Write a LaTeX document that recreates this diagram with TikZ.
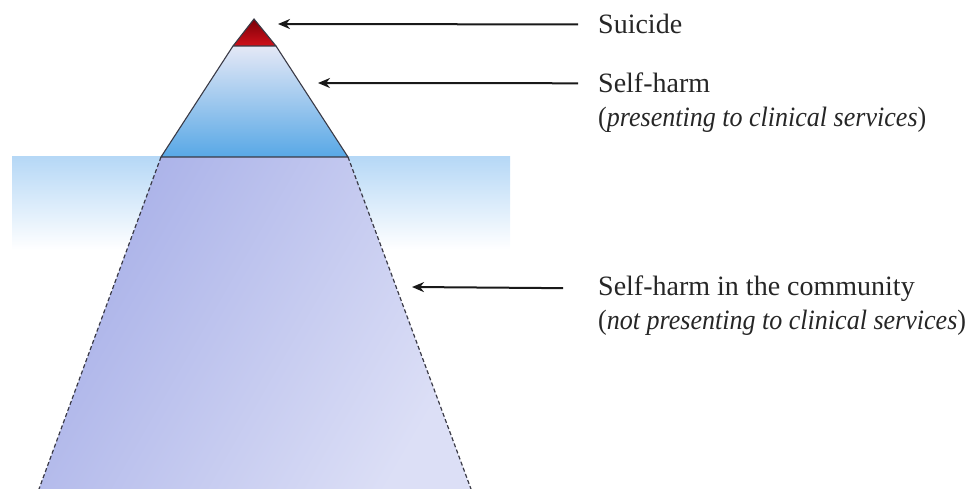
\documentclass[tikz,border=0pt]{standalone}
\usepackage{fontspec}
\setmainfont{Liberation Serif}
\newfontfamily\condit[FakeStretch=0.93]{Liberation Serif}
\usetikzlibrary{arrows.meta}
\definecolor{redtop}{HTML}{7A0008}
\definecolor{redbot}{HTML}{D0101A}
\definecolor{bluetop}{HTML}{E4E8F6}
\definecolor{bluebot}{HTML}{58A8E6}
\definecolor{watertop}{HTML}{B6D8F6}
\definecolor{trapA}{HTML}{A8B0E8}
\definecolor{trapB}{HTML}{DCDFF6}
\definecolor{edge}{HTML}{3A3A46}
\tikzset{
  lbl/.style={anchor=base west, inner xsep=20pt, inner ysep=0pt, font=\fontsize{28}{32}\selectfont, text=black!85},
  sublbl/.style={anchor=base west, inner xsep=20pt, inner ysep=0pt, font=\fontsize{28}{32}\condit, text=black!85},
  arr/.style={-{Stealth[length=12pt,width=10pt]}, line width=2pt, black!90},
  outline/.style={draw=edge, line width=1.1pt}
}
\begin{document}
\begin{tikzpicture}[x=1pt,y=-1pt]
\useasboundingbox (0,0) rectangle (973,489);
% water band
\shade[top color=watertop, bottom color=white] (12,157) rectangle (510,250);
% submerged part
\shade[left color=trapA, right color=trapB, shading angle=60] (161,157) -- (348,157) -- (471,489) -- (39,489) -- cycle;
\draw[edge, line width=1.2pt, dash pattern=on 4pt off 2.5pt] (161,157) -- (39,489);
\draw[edge, line width=1.2pt, dash pattern=on 4pt off 2.5pt] (348,157) -- (471,489);
% blue visible part
\shade[top color=bluetop, bottom color=bluebot] (233,46) -- (276,46) -- (348,157) -- (161,157) -- cycle;
\draw[outline] (233,46) -- (161,157) -- (348,157) -- (276,46);
% red tip
\shade[top color=redtop, bottom color=redbot] (254,19) -- (276,46) -- (233,46) -- cycle;
\draw[outline] (254,19) -- (276,46) -- (233,46) -- cycle;
% tips
\coordinate (t1) at (278,24);
\coordinate (t2) at (318,83);
\coordinate (t3) at (412,287);
% labels
\node[lbl] (sui) at (578,34) {Suicide};
\node[lbl] (sh) at (578,93) {Self-harm};
\node[sublbl] (shs) at (578,127) {(\textit{presenting to clinical services})};
\node[lbl, inner xsep=35pt] (shc) at (563,295) {Self-harm in the community};
\node[sublbl, inner xsep=35pt] (shcs) at (563,329) {(\textit{not presenting to clinical services})};
\draw[arr] (sui.west) -- (t1);
\draw[arr] (sh.west) -- (t2);
\draw[arr] (shc.west) -- (t3);
\end{tikzpicture}
\end{document}
